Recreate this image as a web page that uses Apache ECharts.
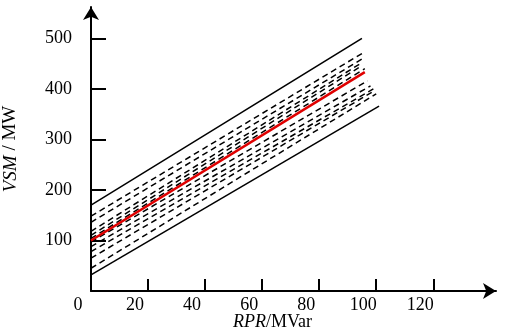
<!DOCTYPE html>
<html>
<head>
<meta charset="utf-8">
<script src="https://cdn.jsdelivr.net/npm/echarts@6/dist/echarts.min.js"></script>
<style>html,body{margin:0;padding:0;background:#fff}#c{width:505px;height:331px}</style>
</head>
<body>
<div id="c"></div>
<script>
// Tick labels
const xTicks = [0, 20, 40, 60, 80, 100, 120];
const yTicks = [100, 200, 300, 400, 500];
// Boundary lines (solid black): [RPR, VSM] endpoints
const upperBound = [[0, 170], [95, 500]];
const lowerBound = [[0, 32], [101, 366]];
// Fitted line (red)
const fitLine = [[0, 100], [96, 433]];
// Individual dashed lines
const dashed1 = [[0, 148], [95, 470]];
const dashed2 = [[0, 136], [95, 459]];
const dashed3 = [[0, 118], [95, 452]];
const dashed4 = [[0, 110], [95, 446]];
const dashed5 = [[0, 104], [96, 440]];
const dashed6 = [[0, 97], [97, 416]];
const dashed7 = [[0, 88], [98, 406]];
const dashed8 = [[0, 78], [99, 400]];
const dashed9 = [[0, 65], [99, 395]];
const dashed10 = [[0, 45], [100, 390]];
const dashedLines = [dashed1, dashed2, dashed3, dashed4, dashed5, dashed6, dashed7, dashed8, dashed9, dashed10];

const font = 'Liberation Serif';
const chart = echarts.init(document.getElementById('c'));
const series = [];
dashedLines.forEach(d => series.push({
  type: 'line', data: d, symbol: 'none', silent: true,
  lineStyle: { color: '#000', width: 1.5, type: [6, 4] }
}));
series.push({ type: 'line', data: upperBound, symbol: 'none', lineStyle: { color: '#000', width: 1.5 } });
series.push({ type: 'line', data: lowerBound, symbol: 'none', lineStyle: { color: '#000', width: 1.5 } });
series.push({ type: 'line', data: fitLine, symbol: 'none', lineStyle: { color: '#e00000', width: 2.5 }, z: 5 });

chart.setOption({
  animation: false,
  grid: { left: 91, right: 9, top: 7, bottom: 40, containLabel: false, outerBoundsMode: 'none' },
  xAxis: {
    type: 'value', min: 0, max: 142, interval: 20,
    splitLine: { show: false },
    axisLine: { lineStyle: { color: '#000', width: 2 }, symbol: ['none', 'arrow'], symbolSize: [12, 13] },
    axisTick: { inside: true, length: 12, lineStyle: { color: '#000', width: 2 }, customValues: xTicks },
    axisLabel: { customValues: xTicks, color: '#000', fontFamily: font, fontSize: 18, margin: 5, padding: [0, 26, 0, 0] },
    name: '{i|RPR}/MVar', nameLocation: 'middle', nameGap: 22, nameMoveOverlap: false,
    nameTextStyle: { color: '#000', fontFamily: font, fontSize: 18, padding: [0, 42, 0, 0],
      rich: { i: { fontStyle: 'italic', fontFamily: font, fontSize: 18, color: '#000' } } }
  },
  yAxis: {
    type: 'value', min: 0, max: 562, interval: 100,
    splitLine: { show: false },
    axisLine: { lineStyle: { color: '#000', width: 2 }, symbol: ['none', 'arrow'], symbolSize: [12, 13] },
    axisTick: { inside: true, length: 15, lineStyle: { color: '#000', width: 2 }, customValues: yTicks },
    axisLabel: { customValues: yTicks, color: '#000', fontFamily: font, fontSize: 18, margin: 19 },
    name: '{i|VSM} / MW', nameLocation: 'middle', nameGap: 71, nameMoveOverlap: false,
    nameTextStyle: { color: '#000', fontFamily: font, fontSize: 19,
      rich: { i: { fontStyle: 'italic', fontFamily: font, fontSize: 19, color: '#000' } } }
  },
  series: series
});
</script>
</body>
</html>
